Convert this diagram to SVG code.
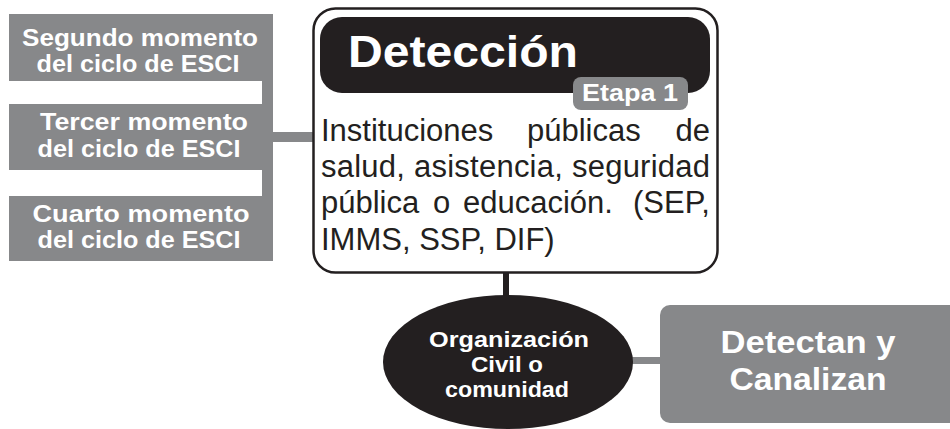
<svg xmlns="http://www.w3.org/2000/svg" width="950" height="429" viewBox="0 0 950 429">
<style>
.gray{fill:#87888a}
.blk{fill:#231f20}
.wb{fill:#fff;font-family:"Liberation Sans",Arial,sans-serif;font-weight:bold}
.body{fill:#231f20;font-family:"Liberation Sans",Arial,sans-serif;font-size:31px}
</style>
<rect width="950" height="429" fill="#fff"/>
<g id="connectors">
<rect class="gray" x="262" y="14" width="11" height="247"/>
<rect class="gray" x="273" y="132" width="40" height="10"/>
<rect class="blk" x="503" y="272" width="6" height="25"/>
<rect class="gray" x="628" y="357" width="34" height="7"/>
</g>
<g id="segundo">
<rect class="gray" x="9" y="14" width="254" height="67"/>
<text class="wb" font-size="24" text-anchor="middle" x="140" y="46" textLength="236" lengthAdjust="spacingAndGlyphs">Segundo momento</text>
<text class="wb" font-size="24" text-anchor="middle" x="138" y="72" textLength="203" lengthAdjust="spacingAndGlyphs">del ciclo de ESCI</text>
</g>
<g id="tercer">
<rect class="gray" x="9" y="104" width="254" height="66"/>
<text class="wb" font-size="24" text-anchor="middle" x="144" y="130" textLength="208" lengthAdjust="spacingAndGlyphs">Tercer momento</text>
<text class="wb" font-size="24" text-anchor="middle" x="139" y="157" textLength="203" lengthAdjust="spacingAndGlyphs">del ciclo de ESCI</text>
</g>
<g id="cuarto">
<rect class="gray" x="9" y="196" width="254" height="65"/>
<text class="wb" font-size="24" text-anchor="middle" x="141" y="222" textLength="217" lengthAdjust="spacingAndGlyphs">Cuarto momento</text>
<text class="wb" font-size="24" text-anchor="middle" x="139" y="248" textLength="203" lengthAdjust="spacingAndGlyphs">del ciclo de ESCI</text>
</g>
<g id="deteccion">
<rect x="313.5" y="8.5" width="404" height="264" rx="22" fill="#fff" stroke="#231f20" stroke-width="2.5"/>
<rect class="blk" x="320" y="17" width="390" height="76" rx="22"/>
<text class="wb" font-size="44" x="348" y="67" textLength="230" lengthAdjust="spacingAndGlyphs">Detección</text>
<rect class="gray" x="573" y="77" width="115" height="33" rx="8"/>
<text class="wb" font-size="23" x="582" y="101" textLength="96" lengthAdjust="spacingAndGlyphs">Etapa 1</text>
<text class="body" x="321" y="141">Instituciones</text>
<text class="body" x="527" y="141">públicas</text>
<text class="body" x="710" y="141" text-anchor="end">de</text>
<text class="body" x="321" y="177" textLength="389" lengthAdjust="spacing">salud, asistencia, seguridad</text>
<text class="body" x="321" y="213">pública</text>
<text class="body" x="433" y="213">o</text>
<text class="body" x="463" y="213">educación.</text>
<text class="body" x="710" y="213" text-anchor="end">(SEP,</text>
<text class="body" x="321" y="250">IMMS, SSP, DIF)</text>
</g>
<g id="organizacion">
<ellipse class="blk" cx="508" cy="362" rx="125" ry="67"/>
<text class="wb" font-size="22" text-anchor="middle" x="509" y="347" textLength="160" lengthAdjust="spacingAndGlyphs">Organización</text>
<text class="wb" font-size="22" text-anchor="middle" x="507" y="372" textLength="72" lengthAdjust="spacingAndGlyphs">Civil o</text>
<text class="wb" font-size="22" text-anchor="middle" x="507" y="397" textLength="124" lengthAdjust="spacingAndGlyphs">comunidad</text>
</g>
<g id="detectan">
<rect class="gray" x="660" y="305" width="300" height="118" rx="10"/>
<text class="wb" font-size="31" text-anchor="middle" x="808" y="353" textLength="175" lengthAdjust="spacingAndGlyphs">Detectan y</text>
<text class="wb" font-size="31" text-anchor="middle" x="808" y="390" textLength="157" lengthAdjust="spacingAndGlyphs">Canalizan</text>
</g>
</svg>
